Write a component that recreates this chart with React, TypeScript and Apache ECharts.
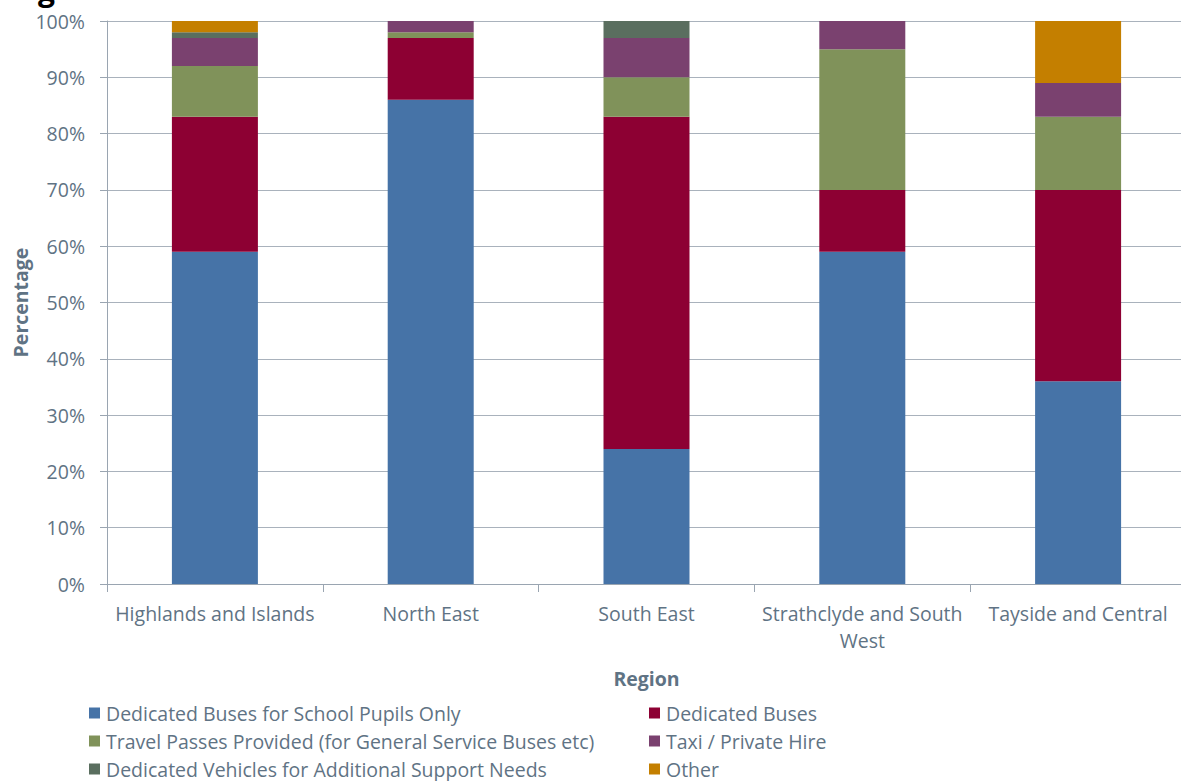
import React, { useEffect, useRef } from "react";
import * as echarts from "echarts";

const regions = [
  "Highlands and Islands",
  "North East",
  "South East",
  "Strathclyde and South\nWest",
  "Tayside and Central",
];
const seriesNames = [
  "Dedicated Buses for School Pupils Only",
  "Dedicated Buses",
  "Travel Passes Provided (for General Service Buses etc)",
  "Taxi / Private Hire",
  "Dedicated Vehicles for Additional Support Needs",
  "Other",
];
const schoolOnly = [59, 86, 24, 59, 36];
const dedicated = [24, 11, 59, 11, 34];
const travelPasses = [9, 1, 7, 25, 13];
const taxi = [5, 2, 7, 5, 6];
const asn = [1, 0, 3, 0, 0];
const other = [2, 0, 0, 0, 11];
const colors = ["#4673a7", "#8d0033", "#80925a", "#7a416f", "#5a6e5f", "#c47f00"];
const yTicks = [0, 10, 20, 30, 40, 50, 60, 70, 80, 90, 100];

const values = [schoolOnly, dedicated, travelPasses, taxi, asn, other];
const textColor = "#5f7384";
const font = "'Open Sans', sans-serif";

export default function App() {
  const ref = useRef<HTMLDivElement>(null);
  useEffect(() => {
    if (!ref.current) return;
    const chart = echarts.init(ref.current, null, { renderer: "svg" });
    const legendStyle = {
      orient: "vertical" as const,
      itemWidth: 11,
      itemHeight: 11,
      itemGap: 8,
      icon: "rect",
      textStyle: { color: textColor, fontSize: 19.5, lineHeight: 20, fontFamily: font, padding: [0, 0, 0, 1] },
      padding: 0,
    };
    chart.setOption({
      animation: false,
      grid: {
        left: 107,
        top: 21,
        width: 1079,
        height: 563,
        containLabel: false,
        outerBoundsMode: "none",
      },
      legend: [
        { ...legendStyle, left: 89, top: 703, data: [seriesNames[0], seriesNames[2], seriesNames[4]] },
        { ...legendStyle, left: 649, top: 703, data: [seriesNames[1], seriesNames[3], seriesNames[5]] },
      ],
      graphic: [
        {
          type: "text",
          left: 38,
          top: -26,
          style: { text: "g", fontSize: 30, fontWeight: "bold", fill: "#000", fontFamily: font },
        },
      ],
      xAxis: {
        type: "category",
        data: regions,
        name: "Region",
        nameLocation: "middle",
        nameGap: 84,
        nameTextStyle: { color: textColor, fontSize: 19.5, fontWeight: "bold", fontFamily: font },
        axisLine: { lineStyle: { color: "#9aa5b1", width: 1 } },
        axisTick: { show: true, length: 8, lineStyle: { color: "#9aa5b1" } },
        axisLabel: {
          color: textColor,
          fontSize: 19.5,
          fontFamily: font,
          margin: 16,
          lineHeight: 27,
          interval: 0,
        },
      },
      yAxis: {
        type: "value",
        min: 0,
        max: 100,
        interval: 10,
        name: "Percentage",
        nameLocation: "middle",
        nameGap: 77,
        nameMoveOverlap: false,
        nameTextStyle: { color: textColor, fontSize: 19.5, fontWeight: "bold", fontFamily: font },
        axisLine: { show: true, lineStyle: { color: "#9aa5b1" } },
        axisTick: { show: true, length: 7, lineStyle: { color: "#9aa5b1" } },
        splitLine: { lineStyle: { color: "#a9b2bc" } },
        axisLabel: {
          color: textColor,
          fontSize: 19.5,
          fontFamily: font,
          margin: 22,
          formatter: (v: number) => (yTicks.includes(v) ? v + "%" : ""),
        },
      },
      series: seriesNames.map((name, i) => ({
        name,
        type: "bar",
        stack: "total",
        barWidth: 86,
        itemStyle: { color: colors[i] },
        data: values[i],
      })),
    });
    return () => chart.dispose();
  }, []);
  return (
    <div
      ref={ref}
      style={{ position: "absolute", left: 0, top: 0, width: 1181, height: 781, background: "#fff" }}
    />
  );
}
